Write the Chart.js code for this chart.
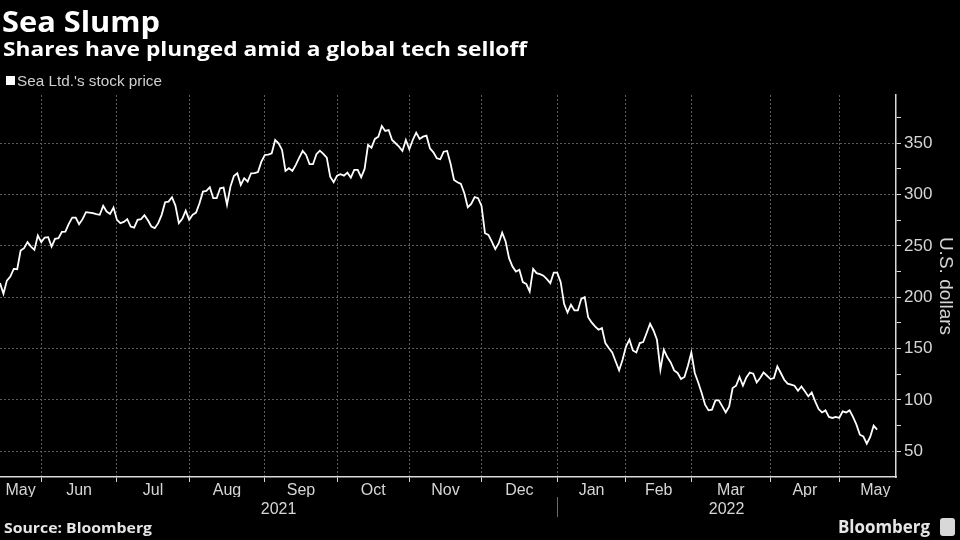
<!DOCTYPE html>
<html>
<head>
<meta charset="utf-8">
<script src="https://cdn.jsdelivr.net/npm/chart.js@4.4.1/dist/chart.umd.min.js"></script>
<style>
  html, body { margin: 0; padding: 0; background: #000; }
  #wrap { position: relative; width: 960px; height: 540px; overflow: hidden; background: #000; }
  #c { position: absolute; left: 0; top: 0; }
  .t { position: absolute; white-space: nowrap; line-height: 1; transform-origin: 0 0; }
  #title { left: 2px; top: 1.6px; font: bold 28px "Open Sans", sans-serif; color: #fff; }
  #subtitle { left: 3px; top: 34.8px; font: bold 20px "Open Sans", sans-serif; color: #fff; }
  #legbox { position: absolute; left: 6px; top: 75.5px; width: 9px; height: 9px; background: #fff; }
  #legtext { left: 17px; top: 72.3px; font: 15px "Liberation Sans", sans-serif; color: #d0d0d0; }
  #source { left: 4px; top: 518px; font: bold 14.5px "Open Sans", sans-serif; color: #e6e6e6; }
  #logo { left: 838px; top: 514px; font: bold 18px "Open Sans", sans-serif; color: #e6e6e6; }
  #logoicon { position: absolute; left: 940px; top: 518px; width: 15px; height: 18px; background: #d8d8d8; border-radius: 3px; }
</style>
</head>
<body>
<div id="wrap">
  <canvas id="c" width="960" height="540"></canvas>
  <div class="t" id="title" data-w="158">Sea Slump</div>
  <div class="t" id="subtitle" data-w="524">Shares have plunged amid a global tech selloff</div>
  <div id="legbox"></div>
  <div class="t" id="legtext" data-w="145">Sea Ltd.'s stock price</div>
  <div class="t" id="source" data-w="148">Source: Bloomberg</div>
  <div class="t" id="logo" data-w="92">Bloomberg</div>
  <div id="logoicon"></div>
</div>
<script>
// Sea Ltd. daily closing price (USD), one value per trading day,
// starting 2021-05-13 (trading-day index 0) through 2022-05-17 (index 255).
const price = [
  213.8, 203.4, 216.3, 220.2, 227.7, 227.4, 245.5, 247.9, 253.7, 249.4,
  246.2, 260.1, 253.7, 258.2, 258.6, 249.4, 256.9, 257.6, 263.7, 264.0,
  271.5, 277.6, 277.6, 271.2, 276.1, 282.9, 282.4, 281.9, 281.0, 280.3,
  289.0, 283.5, 281.2, 287.4, 275.4, 272.2, 273.4, 276.1, 268.9, 267.9,
  275.4, 276.1, 280.0, 275.0, 268.9, 267.3, 272.2, 280.3, 292.6, 293.2,
  297.5, 289.3, 272.2, 276.4, 284.4, 275.4, 280.3, 282.5, 291.6, 302.9,
  303.6, 307.2, 296.5, 296.5, 306.2, 306.8, 290.0, 307.8, 318.2, 320.8,
  309.4, 316.0, 312.6, 320.8, 321.0, 322.0, 332.1, 338.6, 339.0, 340.3,
  353.2, 350.0, 343.5, 323.1, 325.7, 323.1, 329.0, 336.0, 342.5, 338.6,
  329.6, 329.6, 339.3, 342.8, 339.6, 336.0, 317.5, 312.1, 318.5, 319.8,
  318.5, 321.4, 316.5, 324.0, 324.0, 316.9, 325.0, 348.3, 345.7, 354.2,
  356.4, 366.8, 362.0, 362.9, 353.2, 350.0, 346.7, 342.5, 353.2, 344.2,
  353.2, 360.3, 354.2, 356.4, 357.4, 345.1, 341.2, 335.4, 334.4, 341.8,
  342.5, 330.0, 314.3, 312.0, 310.4, 301.4, 287.7, 291.0, 297.5, 296.5,
  289.0, 262.4, 260.8, 254.3, 246.9, 252.7, 263.0, 254.3, 238.1, 230.0,
  225.1, 226.8, 214.8, 213.1, 205.6, 227.7, 223.5, 222.5, 221.0, 217.7,
  213.8, 224.1, 224.0, 215.0, 193.7, 185.2, 192.7, 187.2, 187.2, 198.5,
  200.2, 180.7, 175.5, 171.6, 168.4, 170.0, 155.4, 150.6, 146.3, 137.5,
  128.8, 139.2, 152.1, 158.7, 148.2, 146.3, 155.4, 156.4, 165.2, 174.2,
  167.7, 158.7, 129.5, 148.9, 141.8, 136.6, 128.8, 126.3, 120.4, 122.4,
  133.4, 146.3, 126.3, 117.1, 106.8, 95.4, 89.9, 90.6, 99.6, 99.6,
  93.8, 87.9, 93.8, 111.7, 113.9, 122.4, 114.0, 122.0, 126.8, 125.6,
  117.0, 121.4, 126.8, 123.6, 120.4, 121.4, 132.7, 126.3, 119.7, 115.9,
  114.9, 113.9, 109.0, 113.2, 108.4, 103.5, 107.4, 98.6, 91.2, 87.9,
  89.9, 83.5, 82.5, 83.5, 82.5, 88.9, 87.9, 89.9, 83.5, 76.0,
  66.2, 64.6, 57.5, 64.0, 75.0, 71.1
];

// Month boundaries in trading-day index (first trading day of each month)
const monthBoundaries = [0, 12, 34, 55, 77, 98, 119, 140, 162, 182, 201, 224, 244, 265];
const monthLabels = ['May', 'Jun', 'Jul', 'Aug', 'Sep', 'Oct', 'Nov', 'Dec', 'Jan', 'Feb', 'Mar', 'Apr', 'May'];
const yearLabels = ['2021', '2022'];
const yearBoundary = 162;           // first trading day of 2022
const yTickValues = [50, 100, 150, 200, 250, 300, 350];
const yMinorStep = 25;
const xRange = [0, 260.5];
const yRange = [25, 397];

const GRID = '#5c5c5c';
const AXIS = '#d9d9d9';
const LABEL = '#d6d6d6';
const FONT = '"Liberation Sans", sans-serif';

const monthCenters = monthLabels.map((_, i) => (monthBoundaries[i] + monthBoundaries[i + 1]) / 2);
const yearCenters = [(xRange[0] + yearBoundary) / 2, (yearBoundary + xRange[1]) / 2];
const yAllTicks = [];
for (let v = yTickValues[0]; v < yRange[1] - 5; v += yMinorStep) yAllTicks.push(v);

const points = price.map((p, i) => ({ x: i, y: p }));

// fit header/footer texts horizontally to the reference widths
function fitTexts() {
  document.querySelectorAll('[data-w]').forEach(el => {
    el.style.transform = 'none';
    const w = el.getBoundingClientRect().width;
    const target = parseFloat(el.dataset.w);
    if (w > 0) el.style.transform = 'scaleX(' + (target / w) + ')';
  });
}
fitTexts();
if (document.fonts && document.fonts.ready) document.fonts.ready.then(fitTexts);

const separator = {
  id: 'yearSeparator',
  afterDraw(chart) {
    const s = chart.scales.xy;
    const x = Math.round(s.getPixelForValue(yearBoundary)) + 0.5;
    const ctx = chart.ctx;
    ctx.save();
    ctx.strokeStyle = '#6a6a6a';
    ctx.lineWidth = 1;
    ctx.beginPath();
    ctx.moveTo(x, s.top);
    ctx.lineTo(x, s.bottom - 1);
    ctx.stroke();
    ctx.restore();
  }
};

new Chart(document.getElementById('c'), {
  type: 'line',
  data: {
    datasets: [{
      label: "Sea Ltd.'s stock price",
      data: points,
      borderColor: '#ffffff',
      borderWidth: 1.8,
      pointRadius: 0,
      tension: 0,
      fill: false
    }]
  },
  options: {
    responsive: false,
    animation: false,
    events: [],
    layout: { padding: { top: 95, left: 0, right: 0, bottom: 22 } },
    plugins: { legend: { display: false }, tooltip: { enabled: false }, title: { display: false } },
    scales: {
      x: {
        type: 'linear', position: 'bottom', weight: 0,
        min: xRange[0], max: xRange[1],
        afterBuildTicks: s => { s.ticks = monthBoundaries.slice(1, -1).map(v => ({ value: v })); },
        afterFit: s => { s.height = 0; },
        ticks: { display: false },
        grid: { color: GRID, lineWidth: 1, drawTicks: true, tickLength: 5, tickColor: AXIS, tickWidth: 1 },
        border: { display: true, color: AXIS, width: 1.5, dash: [2, 2] }
      },
      xm: {
        type: 'linear', position: 'bottom', weight: 1,
        min: xRange[0], max: xRange[1],
        afterBuildTicks: s => { s.ticks = monthCenters.map(v => ({ value: v })); },
        afterFit: s => { s.height = 20; },
        ticks: {
          autoSkip: false, maxRotation: 0, padding: 3.5,
          color: LABEL, font: { family: FONT, size: 16 },
          callback: (v, i) => monthLabels[i]
        },
        grid: { display: false, drawTicks: false },
        border: { display: false }
      },
      xy: {
        type: 'linear', position: 'bottom', weight: 2,
        min: xRange[0], max: xRange[1],
        afterBuildTicks: s => { s.ticks = yearCenters.map(v => ({ value: v })); },
        afterFit: s => { s.height = 21; },
        ticks: {
          autoSkip: false, maxRotation: 0, padding: 2.5,
          color: LABEL, font: { family: FONT, size: 16 },
          callback: (v, i) => yearLabels[i]
        },
        grid: { display: false, drawTicks: false },
        border: { display: false }
      },
      y: {
        type: 'linear', position: 'right',
        min: yRange[0], max: yRange[1],
        afterBuildTicks: s => { s.ticks = yAllTicks.map(v => ({ value: v })); },
        afterFit: s => { s.width = 64; },
        ticks: {
          padding: 3, color: LABEL, font: { family: FONT, size: 17 },
          callback: v => (yTickValues.includes(v) ? String(v) : '')
        },
        grid: {
          color: c => (c.tick && yTickValues.includes(c.tick.value) ? GRID : 'rgba(0,0,0,0)'),
          lineWidth: 1, drawTicks: true, tickLength: 5, tickColor: AXIS, tickWidth: 1
        },
        border: { display: true, color: AXIS, width: 1.5, dash: [2, 2] },
        title: {
          display: true, text: 'U.S. dollars', color: LABEL,
          font: { family: FONT, size: 19 }, padding: { top: 3, bottom: 0 }
        }
      }
    }
  },
  plugins: [separator]
});
</script>
</body>
</html>
